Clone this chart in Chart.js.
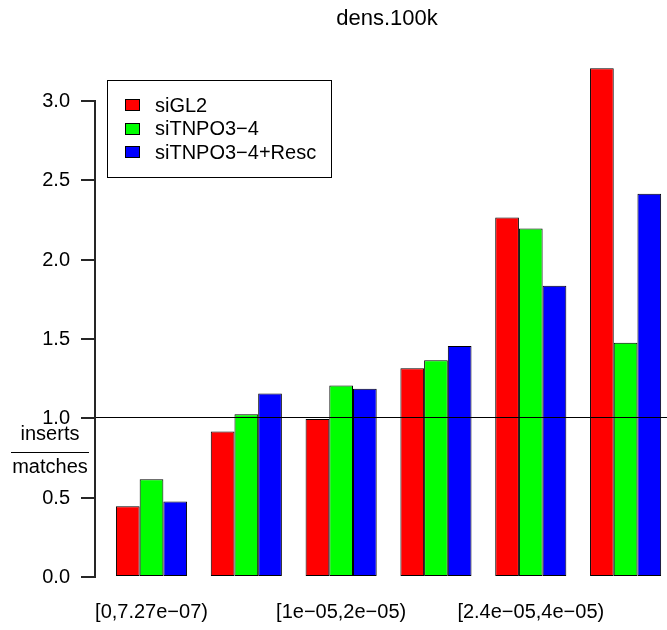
<!DOCTYPE html>
<html>
<head>
<meta charset="utf-8">
<script src="https://cdn.jsdelivr.net/npm/chart.js@4.4.1/dist/chart.umd.min.js"></script>
<style>
  html, body { margin: 0; padding: 0; background: #fff; overflow: hidden; }
  #wrap { position: relative; width: 700px; height: 630px; }
</style>
</head>
<body>
<div id="wrap"><canvas id="c" width="700" height="630"></canvas></div>
<script>
// density bins (R drops every other label because they overlap)
const categories = ['[0,7.27e\u221207)', '[7.27e\u221207,1e\u221205)', '[1e\u221205,2e\u221205)',
  '[2e\u221205,2.4e\u221205)', '[2.4e\u221205,4e\u221205)', '[4e\u221205,1.6e\u221204]'];
const shownLabels = [0, 2, 4];

const seriesNames = ['siGL2', 'siTNPO3\u22124', 'siTNPO3\u22124+Resc'];
const seriesColors = ['#ff0000', '#00ff00', '#0000ff'];
const siGL2 = [0.44, 0.91, 0.99, 1.31, 2.26, 3.20];
const siTNPO3_4 = [0.61, 1.02, 1.20, 1.36, 2.19, 1.47];
const siTNPO3_4_Resc = [0.47, 1.15, 1.18, 1.45, 1.83, 2.41];

const yTicks = [0, 0.5, 1, 1.5, 2, 2.5, 3];
const yTickLabels = ['0.0', '0.5', '1.0', '1.5', '2.0', '2.5', '3.0'];
const refLine = 1.0;
const title = 'dens.100k';
const yLabelTop = 'inserts';
const yLabelBottom = 'matches';

const FONT = '"Liberation Sans", Arial, Helvetica, sans-serif';

// R's barplot: ylim = range(0, heights), then 4% padding each side
const allVals = [...siGL2, ...siTNPO3_4, ...siTNPO3_4_Resc];
const yTop = Math.max(...allVals);
const yExt = 0.04 * yTop;

// axes, abline, legend, title and fraction label drawn the way R places them
const rDecor = {
  id: 'rDecor',
  afterDraw(chart) {
    const { ctx, chartArea, scales: { x, y } } = chart;
    const unit = (x.getPixelForValue(1) - x.getPixelForValue(0)) / 4;
    const axisX = Math.round(chartArea.left - 0.42 * unit);

    ctx.save();
    ctx.fillStyle = '#000';

    // abline(h = 1)
    const yr = Math.round(y.getPixelForValue(refLine));
    ctx.fillRect(axisX, yr, chart.width - axisX, 1);

    // y axis line, ticks, labels
    const y0 = Math.round(y.getPixelForValue(yTicks[0]));
    const y1 = Math.round(y.getPixelForValue(yTicks[yTicks.length - 1]));
    ctx.fillStyle = '#262626';
    ctx.fillRect(axisX, y1, 2, y0 - y1 + 2);
    ctx.font = '20px ' + FONT;
    ctx.textAlign = 'right';
    ctx.textBaseline = 'middle';
    yTicks.forEach((v, i) => {
      const py = Math.round(y.getPixelForValue(v));
      ctx.fillStyle = '#262626';
      ctx.fillRect(axisX - 13, py, 13, 2);
      ctx.fillStyle = '#000';
      ctx.fillText(yTickLabels[i], axisX - 24, py + 1);
    });

    // x labels (only the ones R could fit)
    ctx.textAlign = 'center';
    shownLabels.forEach(i => {
      ctx.fillText(categories[i], x.getPixelForValue(i), 612);
    });

    // fraction y label
    ctx.textBaseline = 'alphabetic';
    ctx.fillText(yLabelTop, 50, 440);
    ctx.fillText(yLabelBottom, 50, 473);
    ctx.fillRect(11, 452, 78, 1);

    // title
    ctx.font = '22px ' + FONT;
    ctx.textBaseline = 'middle';
    ctx.fillText(title, 387, 19);

    // legend
    ctx.strokeStyle = '#000';
    ctx.lineWidth = 1;
    ctx.strokeRect(107.5, 80.5, 224, 97);
    ctx.font = '20px ' + FONT;
    ctx.textAlign = 'left';
    seriesNames.forEach((name, i) => {
      const cy = 105 + i * 23.7;
      ctx.fillStyle = seriesColors[i];
      ctx.fillRect(125, Math.round(cy - 6), 15, 12);
      ctx.strokeRect(125.5, Math.round(cy - 6) + 0.5, 14, 11);
      ctx.fillStyle = '#000';
      ctx.fillText(name, 155, cy + 1);
    });
    ctx.restore();
  }
};

const seriesData = [siGL2, siTNPO3_4, siTNPO3_4_Resc];

new Chart(document.getElementById('c'), {
  type: 'bar',
  data: {
    labels: categories,
    datasets: seriesNames.map((name, i) => ({
      label: name,
      data: seriesData[i],
      backgroundColor: seriesColors[i],
      borderColor: '#000',
      borderWidth: 1,
      borderSkipped: false,
      categoryPercentage: 0.75,
      barPercentage: 1.0,
    })),
  },
  options: {
    responsive: false,
    animation: false,
    devicePixelRatio: 1,
    layout: { padding: { left: 104.1, right: 27, top: 48, bottom: 33.7 } },
    plugins: { legend: { display: false }, tooltip: { enabled: false }, title: { display: false } },
    scales: {
      x: { type: 'category', offset: true, display: false },
      y: { min: -yExt, max: yTop + yExt, display: false },
    },
  },
  plugins: [rDecor],
});
</script>
</body>
</html>
